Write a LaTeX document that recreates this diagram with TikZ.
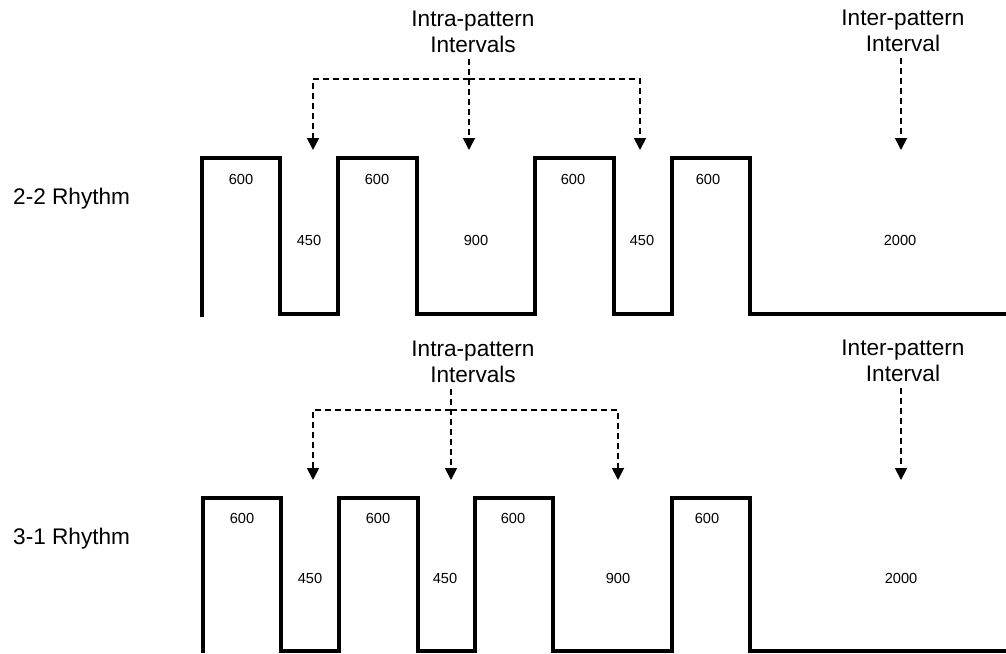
\documentclass[tikz,border=0pt]{standalone}
\usepackage{fontspec}
\setmainfont{Liberation Sans}
\usetikzlibrary{arrows.meta}

\begin{document}
\begin{tikzpicture}[x=1pt,y=-1pt,
    wave/.style={line width=3.4pt, line join=miter},
    pointer/.style={line width=1.8pt, dash pattern=on 6pt off 4pt,
        -{Triangle[width=12pt,length=12pt]}},
    dur/.style={font=\fontsize{14.6}{16}\selectfont, inner sep=0pt},
    caption/.style={font=\fontsize{22.6}{26}\selectfont, align=center, inner sep=2pt}]
    \useasboundingbox (0,0) rectangle (1006,653);

    % 2-2 rhythm
    \node[caption, anchor=west] (rhyA) at (11,199) {2-2 Rhythm};
    \draw[wave] (202,317) -- (202,158) -- (280,158) -- (280,314) -- (338,314)
        -- (338,158) -- (417,158) -- (417,314) -- (535,314) -- (535,158)
        -- (614,158) -- (614,314) -- (672,314) -- (672,158) -- (750,158)
        -- (750,314) -- (1006,314);

    \node[dur] (onA1) at (241,179) {600};
    \node[dur] (onA2) at (377,179) {600};
    \node[dur] (onA3) at (573,179) {600};
    \node[dur] (onA4) at (708,179) {600};
    \node[dur] (offA1) at (309,240) {450};
    \node[dur] (offA2) at (476,240) {900};
    \node[dur] (offA3) at (642,240) {450};
    \node[dur] (offA4) at (900,240) {2000};

    \node[caption] (intraA) at (473,32) {Intra-pattern\\Intervals};
    \node[caption] (interA) at (903,31) {Inter-pattern\\Interval};

    \coordinate (jA) at (469,79);
    \coordinate (tA1) at (313,150);
    \coordinate (tA2) at (469,150);
    \coordinate (tA3) at (640,150);
    \coordinate (tA4) at (901,150);

    \draw[pointer, shorten <=4pt] (intraA.south -| jA) -- (tA2);
    \draw[pointer] (jA) -| (tA1);
    \draw[pointer] (jA) -| (tA3);
    \draw[pointer, shorten <=4pt] (interA.south -| tA4) -- (tA4);

    % 3-1 rhythm
    \node[caption, anchor=west] (rhyB) at (11,539) {3-1 Rhythm};
    \draw[wave] (203,653) -- (203,498) -- (281,498) -- (281,651) -- (339,651)
        -- (339,498) -- (418,498) -- (418,651) -- (475,651) -- (475,498)
        -- (553,498) -- (553,651) -- (672,651) -- (672,498) -- (750,498)
        -- (750,651) -- (1006,651);

    \node[dur] (onB1) at (242,518) {600};
    \node[dur] (onB2) at (378,518) {600};
    \node[dur] (onB3) at (513,518) {600};
    \node[dur] (onB4) at (707,518) {600};
    \node[dur] (offB1) at (310,578) {450};
    \node[dur] (offB2) at (445,578) {450};
    \node[dur] (offB3) at (618,578) {900};
    \node[dur] (offB4) at (901,578) {2000};

    \node[caption] (intraB) at (473,362) {Intra-pattern\\Intervals};
    \node[caption] (interB) at (903,361) {Inter-pattern\\Interval};

    \coordinate (jB) at (451,410);
    \coordinate (tB1) at (313,480);
    \coordinate (tB2) at (451,480);
    \coordinate (tB3) at (618,480);
    \coordinate (tB4) at (901,480);

    \draw[pointer, shorten <=4pt] (intraB.south -| jB) -- (tB2);
    \draw[pointer] (jB) -| (tB1);
    \draw[pointer] (jB) -| (tB3);
    \draw[pointer, shorten <=4pt] (interB.south -| tB4) -- (tB4);
\end{tikzpicture}
\end{document}
